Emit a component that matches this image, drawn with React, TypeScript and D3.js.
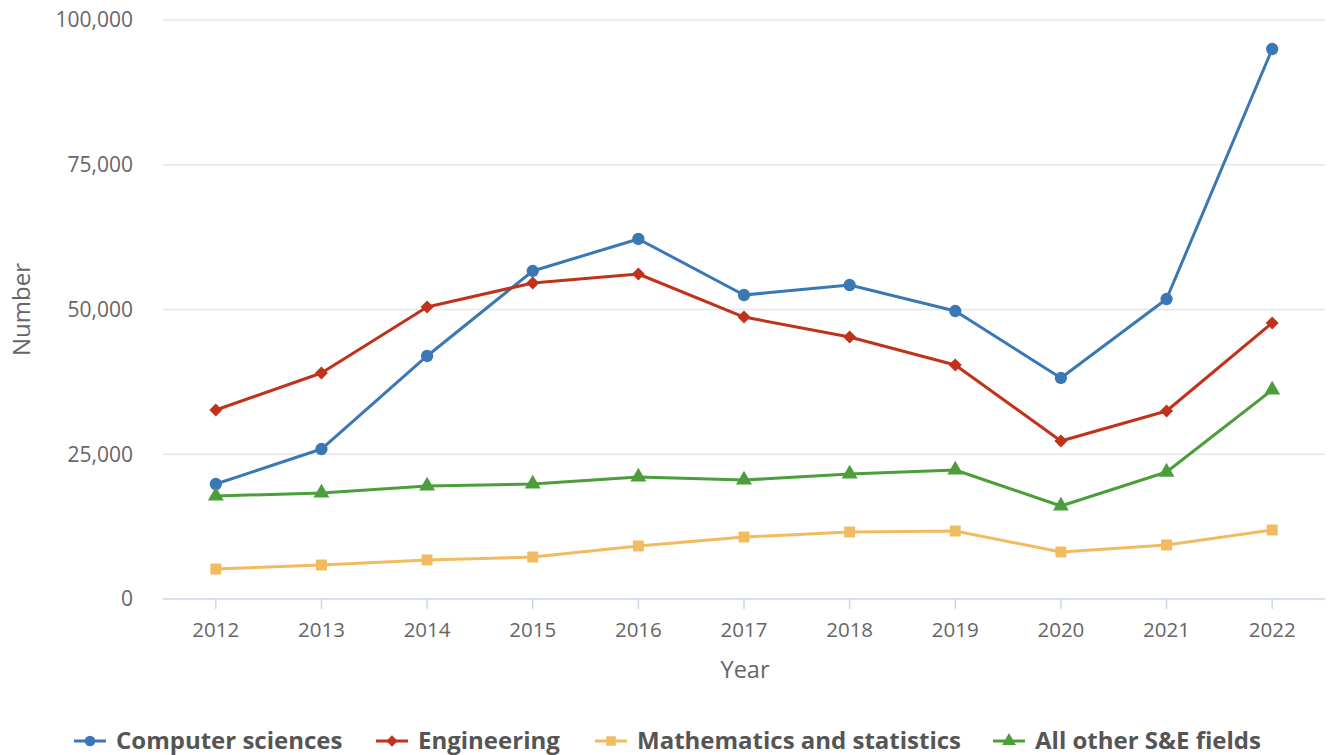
import * as d3 from "d3";
import React from "react";

const years = ["2012", "2013", "2014", "2015", "2016", "2017", "2018", "2019", "2020", "2021", "2022"];
const computerSciences = [19860, 25900, 41970, 56650, 62180, 52500, 54230, 49740, 38170, 51810, 94990];
const engineering = [32640, 39030, 50430, 54580, 56130, 48700, 45250, 40410, 27290, 32470, 47670];
const mathStats = [5180, 5870, 6740, 7250, 9150, 10710, 11570, 11740, 8120, 9330, 11920];
const allOther = [17790, 18310, 19520, 19860, 21070, 20550, 21590, 22280, 16060, 21930, 36100];
const yTicks = [0, 25000, 50000, 75000, 100000];

const series = [
  { name: "Computer sciences", values: computerSciences, color: "#3a78b5", symbol: d3.symbolCircle, size: 120, rot: 0 },
  { name: "Engineering", values: engineering, color: "#c0321a", symbol: d3.symbolSquare, size: 85, rot: 45 },
  { name: "Mathematics and statistics", values: mathStats, color: "#f2bb60", symbol: d3.symbolSquare, size: 120, rot: 0 },
  { name: "All other S&E fields", values: allOther, color: "#4b9e3a", symbol: d3.symbolTriangle, size: 110, rot: 0 },
];

const legendX = [74, 376, 595, 993];

const W = 1328;
const H = 755;
const left = 163;
const right = 1325;
const top = 20;
const bottom = 599;

export default function App() {
  const x = d3.scaleBand().domain(years).range([left, right]);
  const y = d3.scaleLinear().domain([0, 100000]).range([bottom, top]);
  const cx = (yr: string) => (x(yr) as number) + x.bandwidth() / 2;
  const fmt = d3.format(",");

  const line = d3
    .line<number>()
    .x((d, i) => cx(years[i]))
    .y((d) => y(d));

  return (
    <svg
      width={W}
      height={H}
      style={{ position: "absolute", left: 0, top: 0, fontFamily: "'Open Sans', sans-serif" }}
    >
      {yTicks.map((t) => (
        <g key={t}>
          {t > 0 && <line x1={left} x2={right} y1={y(t)} y2={y(t)} stroke="#e6e6e6" strokeWidth={1.5} />}
          <text x={133} y={y(t)} dy="0.35em" textAnchor="end" fontSize={21} fill="#666">
            {fmt(t)}
          </text>
        </g>
      ))}
      <line x1={left} x2={right} y1={bottom} y2={bottom} stroke="#ccd6eb" strokeWidth={1.5} />
      {years.map((yr) => (
        <g key={yr}>
          <line x1={cx(yr)} x2={cx(yr)} y1={bottom} y2={bottom + 10} stroke="#ccd6eb" strokeWidth={1.5} />
          <text x={cx(yr)} y={630} dy="0.35em" textAnchor="middle" fontSize={20.5} fill="#666">
            {yr}
          </text>
        </g>
      ))}
      <text x={745} y={670} dy="0.35em" textAnchor="middle" fontSize={23.5} fill="#666">
        Year
      </text>
      <text
        transform={`translate(22,${(top + bottom) / 2}) rotate(-90)`}
        dy="0.35em"
        textAnchor="middle"
        fontSize={24}
        fill="#666"
      >
        Number
      </text>

      {series.map((s) => (
        <g key={s.name}>
          <path d={line(s.values) || ""} fill="none" stroke={s.color} strokeWidth={3} strokeLinejoin="round" />
          {s.values.map((v, i) => (
            <path
              key={i}
              transform={`translate(${cx(years[i])},${y(v)}) rotate(${s.rot})`}
              d={d3.symbol().type(s.symbol).size(s.size)() || ""}
              fill={s.color}
            />
          ))}
        </g>
      ))}

      {series.map((s, i) => (
        <g key={s.name} transform={`translate(${legendX[i]},741)`}>
          <line x1={0} x2={32} y1={0} y2={0} stroke={s.color} strokeWidth={3} />
          <path
            transform={`translate(16,0) rotate(${s.rot})`}
            d={d3.symbol().type(s.symbol).size(s.size * 0.75)() || ""}
            fill={s.color}
          />
          <text x={42} y={0} dy="0.35em" fontSize={24} fontWeight="bold" fill="#555">
            {s.name}
          </text>
        </g>
      ))}
    </svg>
  );
}
